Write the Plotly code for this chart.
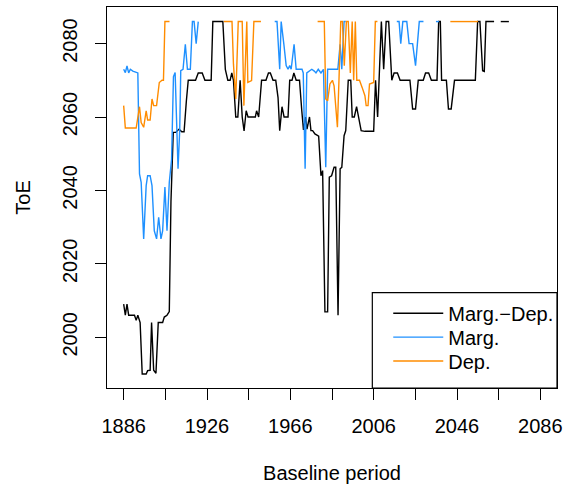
import plotly.graph_objects as go

# Marg.-Dep. (black)
md_year = [1886.0, 1886.8, 1887.6, 1888.4, 1891.2, 1892.0, 1892.8, 1893.9, 1894.9, 1896.8, 1897.5, 1898.7,
           1899.4, 1900.4, 1901.5, 1902.6, 1904.7, 1905.5, 1906.8, 1907.9, 1908.7, 1909.8, 1911.0, 1912.6,
           1913.9, 1915.0, 1916.1, 1917.0, 1920.5, 1921.8, 1923.7, 1925.0, 1928.0, 1928.8, 1933.6, 1934.8,
           1936.0, 1937.1, 1937.9, 1938.7, 1939.8, 1940.8, 1941.9, 1942.9, 1943.8, 1944.8, 1945.7, 1949.2,
           1949.8, 1950.8, 1952.2, 1954.3, 1955.5, 1956.4, 1957.7, 1959.0, 1960.1, 1960.9, 1962.0, 1963.0,
           1964.9, 1965.7, 1966.8, 1967.7, 1968.8, 1970.4, 1971.5, 1972.3, 1973.3, 1974.0, 1975.2, 1975.9,
           1976.7, 1977.8, 1979.6, 1980.7, 1981.5, 1982.6, 1983.9, 1984.7, 1985.8, 1987.0, 1987.8, 1988.9,
           1989.9, 1990.7, 1991.8, 1992.6, 1993.8, 1995.0, 1995.7, 1996.7, 1997.8, 1998.9, 2000.0, 2001.8,
           2006.0, 2006.9, 2007.9, 2009.7, 2010.8, 2012.0, 2013.2, 2014.7, 2015.8, 2017.4, 2018.7, 2023.4,
           2024.7, 2026.1, 2027.4, 2029.8, 2030.9, 2032.4, 2033.7, 2036.4, 2037.2, 2038.0, 2038.6, 2040.9,
           2041.9, 2043.2, 2044.8, 2054.8, 2055.9, 2057.0, 2058.3, 2059.1, 2059.9, 2063.8, 2065.5, 2067.0,
           2070.9]
md_toe = [2009, 2006, 2009, 2006, 2006, 2004.6, 2006, 2004, 1990, 1990, 1990.9, 1991,
          2004, 1991, 1990.2, 2004, 2004, 2005.5, 2006, 2007, 2037, 2055.8, 2055.8, 2056.7,
          2056, 2056, 2064.4, 2070, 2070, 2072, 2072, 2070, 2070, 2086, 2086, 2073,
          2070, 2070, 2072, 2070, 2060, 2060, 2070, 2060, 2056.2, 2061.7, 2060, 2060,
          2061.7, 2060, 2070, 2070, 2072, 2072, 2070, 2070, 2065.3, 2056.3, 2062.8, 2060,
          2060, 2070, 2070, 2072, 2070, 2070, 2061.7, 2056.5, 2060, 2056.7, 2060, 2056.3,
          2056.3, 2055.4, 2054.8, 2044, 2045.4, 2006.9, 2006.9, 2043.6, 2044, 2046.3, 2046.3, 2006,
          2045.9, 2046.3, 2054.9, 2056.3, 2070, 2070, 2060, 2060, 2062.8, 2060, 2056.3, 2056.1,
          2056.1, 2070, 2060, 2086, 2073, 2086, 2086, 2070, 2072, 2072, 2070, 2070,
          2062.2, 2062.2, 2070, 2070, 2072, 2072, 2070, 2070, 2086, 2086, 2070, 2070,
          2062.2, 2062.2, 2070, 2070, 2086, 2086, 2072.6, 2072.4, 2086, 2086, None, 2086,
          2086]

# Marg. (blue)
m_year = [1886.0, 1886.8, 1887.6, 1888.4, 1889.2, 1890.4, 1892.8, 1893.6, 1894.4, 1895.6, 1896.8, 1897.5,
          1898.7, 1899.6, 1900.7, 1901.8, 1902.8, 1903.9, 1904.7, 1905.8, 1906.8, 1907.9, 1909.0, 1909.9,
          1910.7, 1912.1, 1912.9, 1913.4, 1914.5, 1915.6, 1916.6, 1918.0, 1919.0, 1919.8, 1920.8, 1921.8,
          1940.0,
          1958.5, 1959.6, 1960.9, 1961.6, 1962.9, 1964.0, 1964.9, 1965.7, 1966.4, 1967.8, 1968.8, 1971.6,
          1972.2, 1973.1, 1973.9, 1975.2, 1976.3, 1977.5, 1978.3, 1979.4, 1980.7, 1981.9, 1983.0, 1983.9,
          1988.8, 1989.9, 1990.7, 1991.8, 1992.6,
          2005.0,
          2017.1, 2018.2, 2019.0, 2020.0, 2021.9, 2023.0, 2024.7, 2026.1, 2027.9, 2029.9,
          2033.0,
          2035.9, 2037.4]
m_toe = [2073, 2072.1, 2073.9, 2072, 2073, 2072.5, 2072, 2044.5, 2042.2, 2026.8, 2041.3, 2044,
         2044, 2041.3, 2029, 2026.8, 2032.7, 2026.8, 2029, 2040.9, 2029, 2042.2, 2048.5, 2071,
         2072.1, 2045.9, 2056.3, 2072.6, 2073, 2079.8, 2073, 2073, 2086, 2086, 2080, 2086,
         None,
         2086, 2086, 2073, 2086, 2079.8, 2074, 2073, 2074, 2073, 2079.8, 2073, 2073,
         2072, 2045.9, 2072, 2072.5, 2073, 2072.5, 2072, 2073, 2072, 2073, 2046.3, 2073,
         2073, 2079.8, 2073, 2086, 2086,
         None,
         2086, 2086, 2080, 2086, 2086, 2080, 2080, 2074, 2086, 2086,
         None,
         2086, 2086]

# Dep. (orange)
d_year = [1886.0, 1886.8, 1892.0, 1893.6, 1894.4, 1895.6, 1896.8, 1897.5, 1898.7, 1899.6, 1900.4, 1901.8,
          1903.1, 1904.4, 1905.1, 1905.8, 1908.0,
          1920.0,
          1934.1, 1938.0, 1938.7, 1939.8, 1941.0, 1942.9, 1943.7, 1945.1, 1945.6, 1947.4, 1948.5, 1951.9,
          1965.0,
          1979.1, 1982.3, 1983.0, 1983.9, 1985.0, 1986.2, 1987.0, 1988.6, 1989.4, 1990.2, 1991.0, 1991.9,
          1992.9, 1993.8, 1994.8, 1995.7, 1996.4, 1997.2, 1997.9, 1999.2, 2000.5, 2001.8, 2002.4, 2003.3,
          2004.0, 2006.0, 2006.8, 2007.8,
          2025.0,
          2042.8, 2056.1]
d_toe = [2063.1, 2057, 2057, 2062.8, 2058.5, 2057.2, 2061.7, 2059.2, 2059.2, 2064.9, 2063.1, 2063.1,
         2069.4, 2070, 2070, 2086, 2086,
         None,
         2086, 2086, 2074.4, 2064.9, 2086, 2086, 2063.1, 2086, 2069.4, 2069.9, 2086, 2086,
         None,
         2086, 2086, 2064.9, 2064.4, 2069, 2070, 2068.5, 2057.2, 2071, 2086, 2086, 2074,
         2086, 2086, 2072, 2086, 2070, 2086, 2070, 2070, 2068, 2065.8, 2063.1, 2063.1,
         2069, 2069.4, 2086, 2086,
         None,
         2086, 2086]

series_names = ["Marg.\u2212Dep.", "Marg.", "Dep."]
series_colors = ["black", "#1E90FF", "#FF8C00"]

x_ticks = list(range(1886, 2087, 20))
x_ticklabels = [str(v) if (v - 1886) % 40 == 0 else "" for v in x_ticks]
y_ticks = [2000, 2020, 2040, 2060, 2080]

FONT = "Liberation Sans, Arial, Helvetica, sans-serif"

legend_ids = ["legend", "legend2", "legend3"]
legend_tops = [0.2475, 0.1847, 0.1219]

fig = go.Figure()
for xs, ys, nm, col, lg in zip([md_year, m_year, d_year], [md_toe, m_toe, d_toe],
                               series_names, series_colors, legend_ids):
    fig.add_trace(go.Scatter(x=xs, y=ys, mode="lines", name=nm, legend=lg,
                             line=dict(color=col, width=1.4), connectgaps=False))

legend_common = dict(xanchor="left", yanchor="top", bgcolor="rgba(0,0,0,0)", borderwidth=0,
                     itemwidth=50, font=dict(size=20, family=FONT))
layout_legends = {}
for lg, top in zip(legend_ids, legend_tops):
    layout_legends[lg] = dict(x=0.625, y=top, **legend_common)

fig.update_layout(
    width=568, height=489,
    margin=dict(l=107, r=7, t=6, b=101),
    plot_bgcolor="white", paper_bgcolor="white",
    font=dict(family=FONT, size=20, color="black"),
    showlegend=True,
    shapes=[dict(type="rect", xref="paper", yref="paper", x0=0.5896, x1=1.0, y0=0.0, y1=0.2505,
                 line=dict(color="black", width=1.2), fillcolor="rgba(0,0,0,0)")],
    **layout_legends,
)
fig.update_xaxes(range=[1878.0, 2094.0], tickmode="array", tickvals=x_ticks, ticktext=x_ticklabels,
                 ticks="outside", ticklen=11, tickwidth=1, tickcolor="black",
                 showline=True, linecolor="black", linewidth=1.2, mirror=True,
                 showgrid=False, zeroline=False, ticklabelstandoff=9,
                 title=dict(text="Baseline period", standoff=29, font=dict(size=20)),
                 tickfont=dict(size=20))
fig.update_yaxes(range=[1986.17, 2089.97], tickmode="array", tickvals=y_ticks,
                 ticktext=[str(v) for v in y_ticks], tickangle=-90,
                 ticks="outside", ticklen=11, tickwidth=1, tickcolor="black",
                 showline=True, linecolor="black", linewidth=1.2, mirror=True,
                 showgrid=False, zeroline=False, ticklabelstandoff=10,
                 title=dict(text="ToE", standoff=22, font=dict(size=20)),
                 tickfont=dict(size=20))

fig.write_html("out.html")
